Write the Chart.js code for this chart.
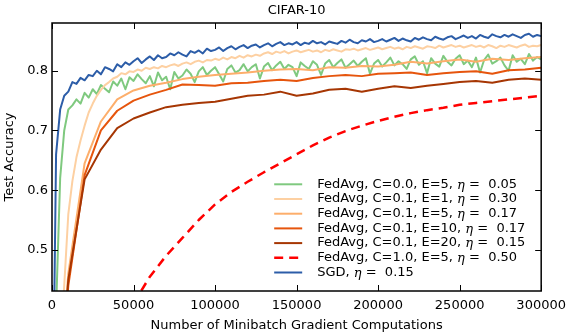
<!DOCTYPE html>
<html>
<head>
<meta charset="utf-8">
<script src="https://cdn.jsdelivr.net/npm/chart.js@4.4.1/dist/chart.umd.min.js"></script>
<style>
  html, body { margin: 0; padding: 0; background: #fff; }
</style>
</head>
<body>
<canvas id="accChart" width="573" height="334"></canvas>
<script>
// x positions of the noisy (per-step) curves
const noisyX = [
  0, 2500, 5000, 7500, 10000, 12500, 15000, 17500, 20000, 22500,
  25000, 27500, 30000, 32500, 35000, 37500, 40000, 42500, 45000, 47500,
  50000, 52500, 55000, 57500, 60000, 62500, 65000, 67500, 70000, 72500,
  75000, 77500, 80000, 82500, 85000, 87500, 90000, 92500, 95000, 97500,
  100000, 102500, 105000, 107500, 110000, 112500, 115000, 117500, 120000, 122500,
  125000, 127500, 130000, 132500, 135000, 137500, 140000, 142500, 145000, 147500,
  150000, 152500, 155000, 157500, 160000, 162500, 165000, 167500, 170000, 172500,
  175000, 177500, 180000, 182500, 185000, 187500, 190000, 192500, 195000, 197500,
  200000, 202500, 205000, 207500, 210000, 212500, 215000, 217500, 220000, 222500,
  225000, 227500, 230000, 232500, 235000, 237500, 240000, 242500, 245000, 247500,
  250000, 252500, 255000, 257500, 260000, 262500, 265000, 267500, 270000, 272500,
  275000, 277500, 280000, 282500, 285000, 287500, 290000, 292500, 295000, 297500,
  300000
];

const fedC00E5 = [
  0.10, 0.40, 0.62, 0.70, 0.735, 0.742, 0.752, 0.745, 0.763, 0.755,
  0.769, 0.761, 0.776, 0.770, 0.764, 0.782, 0.775, 0.787, 0.769, 0.789,
  0.783, 0.794, 0.786, 0.779, 0.791, 0.774, 0.797, 0.784, 0.790, 0.769,
  0.798, 0.787, 0.792, 0.802, 0.795, 0.781, 0.799, 0.806, 0.793, 0.800,
  0.806, 0.794, 0.782, 0.803, 0.809, 0.797, 0.801, 0.811, 0.799, 0.806,
  0.811, 0.787, 0.807, 0.813, 0.801, 0.809, 0.815, 0.803, 0.810, 0.806,
  0.791, 0.814, 0.808, 0.803, 0.816, 0.810, 0.793, 0.812, 0.818, 0.806,
  0.813, 0.819, 0.805, 0.811, 0.817, 0.808, 0.815, 0.821, 0.795, 0.812,
  0.818, 0.807, 0.814, 0.822, 0.809, 0.816, 0.811, 0.803, 0.819, 0.824,
  0.810, 0.816, 0.796, 0.821, 0.812, 0.807, 0.825, 0.815, 0.809, 0.820,
  0.826, 0.811, 0.817, 0.806, 0.822, 0.797, 0.818, 0.827, 0.812, 0.816,
  0.822, 0.809, 0.800, 0.826, 0.815, 0.820, 0.811, 0.828, 0.817, 0.823,
  0.819
];

const fedC01E1 = [
  0.10, 0.20, 0.33, 0.44, 0.56, 0.615, 0.655, 0.683, 0.708, 0.730,
  0.745, 0.758, 0.768, 0.776, 0.781, 0.787, 0.790, 0.796, 0.794, 0.799,
  0.798, 0.802, 0.800, 0.805, 0.803, 0.806, 0.804, 0.808, 0.806, 0.809,
  0.811, 0.808, 0.812, 0.814, 0.811, 0.815, 0.817, 0.814, 0.818, 0.817,
  0.820, 0.818, 0.822, 0.819, 0.823, 0.821, 0.825, 0.822, 0.826, 0.824,
  0.827, 0.825, 0.829, 0.831, 0.828, 0.832, 0.830, 0.833, 0.829, 0.832,
  0.834, 0.831, 0.833, 0.835, 0.832, 0.834, 0.831, 0.835, 0.833, 0.836,
  0.834, 0.832, 0.836, 0.835, 0.837, 0.834, 0.836, 0.838, 0.835, 0.837,
  0.839, 0.836, 0.838, 0.840, 0.837, 0.839, 0.836, 0.840, 0.838, 0.841,
  0.839, 0.837, 0.841, 0.840, 0.838, 0.842, 0.839, 0.841, 0.843, 0.840,
  0.842, 0.839, 0.841, 0.843, 0.840, 0.842, 0.839, 0.843, 0.841, 0.838,
  0.842, 0.840, 0.843, 0.841, 0.839, 0.842, 0.844, 0.840, 0.842, 0.841,
  0.843
];

const sgd = [
  0.10, 0.66, 0.735, 0.758, 0.765, 0.781, 0.778, 0.788, 0.784, 0.793,
  0.791, 0.800, 0.794, 0.806, 0.803, 0.799, 0.811, 0.806, 0.814, 0.810,
  0.816, 0.821, 0.813, 0.819, 0.824, 0.818, 0.826, 0.821, 0.823, 0.829,
  0.826, 0.831, 0.827, 0.824, 0.833, 0.830, 0.834, 0.829, 0.837, 0.833,
  0.835, 0.839, 0.833, 0.838, 0.841, 0.836, 0.840, 0.843, 0.838, 0.842,
  0.844, 0.839, 0.843, 0.846, 0.841, 0.845, 0.848, 0.843, 0.846, 0.844,
  0.848, 0.843, 0.847, 0.845, 0.850, 0.846, 0.848, 0.844, 0.849, 0.847,
  0.845, 0.850, 0.847, 0.852, 0.848, 0.846, 0.851, 0.849, 0.853, 0.848,
  0.850, 0.853, 0.849, 0.852, 0.855, 0.850, 0.854, 0.851, 0.849, 0.855,
  0.852, 0.856, 0.853, 0.851, 0.857, 0.854, 0.852, 0.856, 0.858, 0.853,
  0.856, 0.859, 0.855, 0.858, 0.854, 0.860, 0.857, 0.855, 0.861, 0.858,
  0.856, 0.860, 0.857, 0.861, 0.858, 0.855, 0.860, 0.862, 0.857, 0.860,
  0.858
];

// x positions of the evaluated (smoother) curves
const evalX = [
  0, 10000, 20000, 30000, 40000, 50000, 60000, 70000, 80000, 90000,
  100000, 110000, 120000, 130000, 140000, 150000, 160000, 170000, 180000, 190000,
  200000, 210000, 220000, 230000, 240000, 250000, 260000, 270000, 280000, 290000,
  300000
];

const fedC01E5 = [
  0.10, 0.46, 0.645, 0.715, 0.752, 0.767, 0.775, 0.780, 0.786, 0.790,
  0.793, 0.795, 0.797, 0.800, 0.802, 0.803, 0.801, 0.806, 0.805, 0.808,
  0.807, 0.810, 0.815, 0.812, 0.816, 0.819, 0.815, 0.820, 0.818, 0.821,
  0.823
];

const fedC01E10 = [
  0.10, 0.44, 0.625, 0.700, 0.733, 0.750, 0.760, 0.768, 0.777, 0.776,
  0.775, 0.779, 0.780, 0.783, 0.785, 0.783, 0.788, 0.791, 0.793, 0.791,
  0.795, 0.796, 0.797, 0.793, 0.796, 0.798, 0.799, 0.795, 0.801, 0.802,
  0.805
];

const fedC01E20 = [
  0.10, 0.45, 0.618, 0.668, 0.704, 0.720, 0.730, 0.739, 0.743, 0.746,
  0.748, 0.753, 0.758, 0.760, 0.765, 0.758, 0.762, 0.768, 0.770, 0.765,
  0.770, 0.774, 0.771, 0.775, 0.778, 0.781, 0.783, 0.780, 0.785, 0.787,
  0.785
];

const fedC10X = [
  50000, 60000, 70000, 80000, 90000, 100000, 110000, 120000, 130000, 140000,
  150000, 160000, 170000, 180000, 190000, 200000, 210000, 220000, 230000, 240000,
  250000, 260000, 270000, 280000, 290000, 300000
];
const fedC10E5 = [
  0.41, 0.455, 0.49, 0.52, 0.55, 0.576, 0.597, 0.614, 0.63, 0.645,
  0.66, 0.675, 0.688, 0.699, 0.708, 0.716, 0.723, 0.729, 0.734, 0.738,
  0.743, 0.746, 0.749, 0.752, 0.755, 0.758
];

const seriesLabels = [
  "FedAvg, C=0.0, E=5, η =  0.05",
  "FedAvg, C=0.1, E=1, η =  0.30",
  "FedAvg, C=0.1, E=5, η =  0.17",
  "FedAvg, C=0.1, E=10, η =  0.17",
  "FedAvg, C=0.1, E=20, η =  0.15",
  "FedAvg, C=1.0, E=5, η =  0.50",
  "SGD, η =  0.15"
];
const xTicks = [0, 50000, 100000, 150000, 200000, 250000, 300000];
const yTicks = [0.5, 0.6, 0.7, 0.8];

const FONT = "DejaVu Sans";

function toPoints(xs, ys) {
  return xs.map((x, i) => ({ x: x, y: ys[i] }));
}

function makeSeries(label, xs, ys, color, extra) {
  return Object.assign({
    label: label,
    data: toPoints(xs, ys),
    borderColor: color,
    backgroundColor: color,
    borderWidth: 2,
    pointRadius: 0,
    tension: 0,
    borderJoinStyle: "round",
    clip: 0
  }, extra || {});
}

const datasets = [
  makeSeries(seriesLabels[0], noisyX, fedC00E5, "#7fc97f", { order: 6 }),
  makeSeries(seriesLabels[1], noisyX, fedC01E1, "#fdd0a2", { order: 5 }),
  makeSeries(seriesLabels[2], evalX, fedC01E5, "#fdae6b", { order: 4 }),
  makeSeries(seriesLabels[3], evalX, fedC01E10, "#e6550d", { order: 3 }),
  makeSeries(seriesLabels[4], evalX, fedC01E20, "#a63603", { order: 2 }),
  makeSeries(seriesLabels[5], fedC10X, fedC10E5, "#ff0000", { order: 1, borderWidth: 2.5, borderDash: [9, 6], borderCapStyle: "butt" }),
  makeSeries(seriesLabels[6], noisyX, sgd, "#2c5da8", { order: 0 })
];

// frame, inward ticks on all sides, title and the legend inside the axes
const decorPlugin = {
  id: "decor",
  afterDraw(chart) {
    const ctx = chart.ctx;
    const a = chart.chartArea;
    const xs = chart.scales.x;
    const ys = chart.scales.y;
    ctx.save();

    ctx.strokeStyle = "#000";
    ctx.lineWidth = 1;
    ctx.beginPath();
    xTicks.forEach(v => {
      const px = Math.round(xs.getPixelForValue(v)) + 0.5;
      ctx.moveTo(px, a.bottom); ctx.lineTo(px, a.bottom - 6);
      ctx.moveTo(px, a.top); ctx.lineTo(px, a.top + 6);
    });
    yTicks.forEach(v => {
      const py = Math.round(ys.getPixelForValue(v)) + 0.5;
      ctx.moveTo(a.left, py); ctx.lineTo(a.left + 6, py);
      ctx.moveTo(a.right, py); ctx.lineTo(a.right - 6, py);
    });
    ctx.stroke();

    ctx.lineWidth = 1.5;
    ctx.strokeRect(a.left, a.top, a.right - a.left, a.bottom - a.top);

    // title
    ctx.fillStyle = "#000";
    ctx.font = "13px '" + FONT + "'";
    ctx.textAlign = "center";
    ctx.textBaseline = "middle";
    ctx.fillText("CIFAR-10", (a.left + a.right) / 2, 11);

    // legend
    const lineX0 = a.right - 267;
    const lineX1 = lineX0 + 28;
    const textX = lineX0 + 43;
    const rowY0 = a.bottom - 106.7;
    const rowGap = 14.7;
    ctx.textAlign = "left";
    chart.data.datasets.forEach((ds, i) => {
      const y = rowY0 + i * rowGap;
      ctx.save();
      ctx.strokeStyle = ds.borderColor;
      ctx.lineWidth = ds.borderWidth;
      ctx.setLineDash(ds.borderDash || []);
      ctx.beginPath();
      ctx.moveTo(lineX0, y);
      ctx.lineTo(lineX1, y);
      ctx.stroke();
      ctx.restore();

      const parts = ds.label.split("η");
      let x = textX;
      ctx.font = "13px '" + FONT + "'";
      ctx.fillText(parts[0], x, y);
      x += ctx.measureText(parts[0]).width;
      ctx.font = "italic 13px 'DejaVu Serif'";
      ctx.fillText("η", x, y + 1);
      x += ctx.measureText("η").width;
      ctx.font = "13px '" + FONT + "'";
      ctx.fillText(parts[1], x, y);
    });

    ctx.restore();
  }
};

const tickFont = { family: FONT, size: 13 };

new Chart(document.getElementById("accChart").getContext("2d"), {
  type: "line",
  data: { datasets: datasets },
  options: {
    responsive: false,
    animation: false,
    layout: { padding: { top: 23, right: 27, left: 0, bottom: 0 } },
    plugins: {
      legend: { display: false },
      tooltip: { enabled: false }
    },
    scales: {
      x: {
        type: "linear",
        min: 0,
        max: 300000,
        afterBuildTicks: s => { s.ticks = xTicks.map(v => ({ value: v })); },
        afterFit: s => { s.height = 43; },
        grid: { display: false, drawTicks: false },
        border: { display: false },
        ticks: {
          font: tickFont,
          color: "#000",
          padding: 7,
          maxRotation: 0,
          autoSkip: false,
          callback: v => String(v)
        },
        title: {
          display: true,
          text: "Number of Minibatch Gradient Computations",
          font: tickFont,
          color: "#000",
          padding: { top: 0, bottom: 1 }
        }
      },
      y: {
        type: "linear",
        min: 0.431,
        max: 0.88,
        afterBuildTicks: s => { s.ticks = yTicks.map(v => ({ value: v })); },
        afterFit: s => { s.width = 52; },
        grid: { display: false, drawTicks: false },
        border: { display: false },
        ticks: {
          font: tickFont,
          color: "#000",
          padding: 4,
          autoSkip: false,
          callback: v => v.toFixed(1)
        },
        title: {
          display: true,
          text: "Test Accuracy",
          font: tickFont,
          color: "#000",
          padding: { top: 2, bottom: 0 }
        }
      }
    }
  },
  plugins: [decorPlugin]
});
</script>
</body>
</html>
